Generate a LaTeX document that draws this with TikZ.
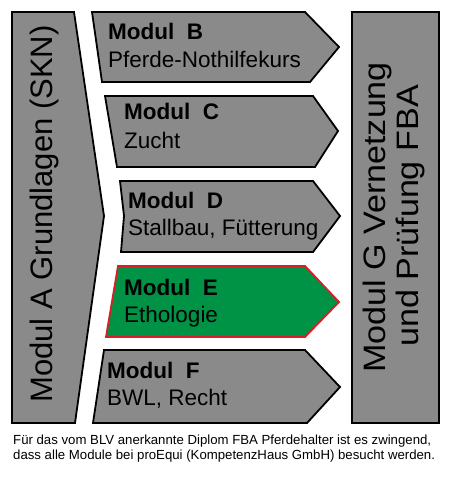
\documentclass[tikz,border=0pt]{standalone}
\usepackage{fontspec}
\setmainfont{Liberation Sans}
\definecolor{boxgray}{RGB}{138,138,138}
\definecolor{boxgreen}{RGB}{0,146,69}
\definecolor{boxred}{RGB}{218,30,40}
\begin{document}
\begin{tikzpicture}[x=1pt,y=-1pt,
  modbox/.style={draw=black, fill=boxgray, line width=1.8pt, line join=miter},
  hibox/.style={draw=boxred, fill=boxgreen, line width=1.8pt, line join=miter},
  titletxt/.style={anchor=base west, inner sep=0pt, font=\fontsize{22.5}{27}\selectfont\bfseries},
  subtxt/.style={anchor=base west, inner sep=0pt, font=\fontsize{22.5}{27}\selectfont},
  bigtxt/.style={anchor=base, inner sep=0pt, rotate=90, font=\fontsize{31}{36}\selectfont},
  foottxt/.style={anchor=base west, inner sep=0pt, font=\fontsize{13.2}{16}\selectfont}]
\useasboundingbox (0,0) rectangle (450,500);
% Modul A
\draw[modbox] (12,12) -- (74,12) -- (104,216) -- (75,423) -- (12,423) -- cycle;
\node[bigtxt] (aT) at (52,214) {Modul A Grundlagen (SKN)};
% Modul B
\draw[modbox] (92,12) -- (305,12) -- (339,47) -- (310,82) -- (102,82) -- cycle;
\node[titletxt] (bT) at (108,40) {Modul\ \ B};
\node[subtxt] (bS) at (108,68) {Pferde-Nothilfekurs};
% Modul C
\draw[modbox] (105,96) -- (313,96) -- (338,131) -- (315,167) -- (117,167) -- cycle;
\node[titletxt] (cT) at (124,120) {Modul\ \ C};
\node[subtxt] (cS) at (124,148) {Zucht};
% Modul D
\draw[modbox] (120,181) -- (313,181) -- (340,216) -- (313,252) -- (121,252) -- (124,216) -- cycle;
\node[titletxt] (dT) at (128,208) {Modul\ \ D};
\node[subtxt] (dS) at (128,235) {Stallbau, Fütterung};
% Modul E
\draw[hibox] (118,266) -- (305,266) -- (339,302) -- (305,337) -- (106,337) -- cycle;
\node[titletxt] (eT) at (124,295) {Modul\ \ E};
\node[subtxt] (eS) at (124,322) {Ethologie};
% Modul F
\draw[modbox] (104,350) -- (305,350) -- (340,387) -- (307,423) -- (93,423) -- cycle;
\node[titletxt] (fT) at (107,378) {Modul\ \ F};
\node[subtxt] (fS) at (107,405) {BWL, Recht};
% Modul G
\draw[modbox] (352,12) rectangle (439,423);
\node[bigtxt] (gT1) at (385,217.5) {\scalebox{1.1}[1]{Modul G Vernetzung}};
\node[bigtxt] (gT2) at (418,216) {\scalebox{1.1}[1]{und Prüfung FBA}};
% Footer
\node[foottxt] (f1) at (13,444) {Für das vom BLV anerkannte Diplom FBA Pferdehalter ist es zwingend,};
\node[foottxt] (f2) at (13,459) {dass alle Module bei proEqui (KompetenzHaus GmbH) besucht werden.};
\end{tikzpicture}
\end{document}
